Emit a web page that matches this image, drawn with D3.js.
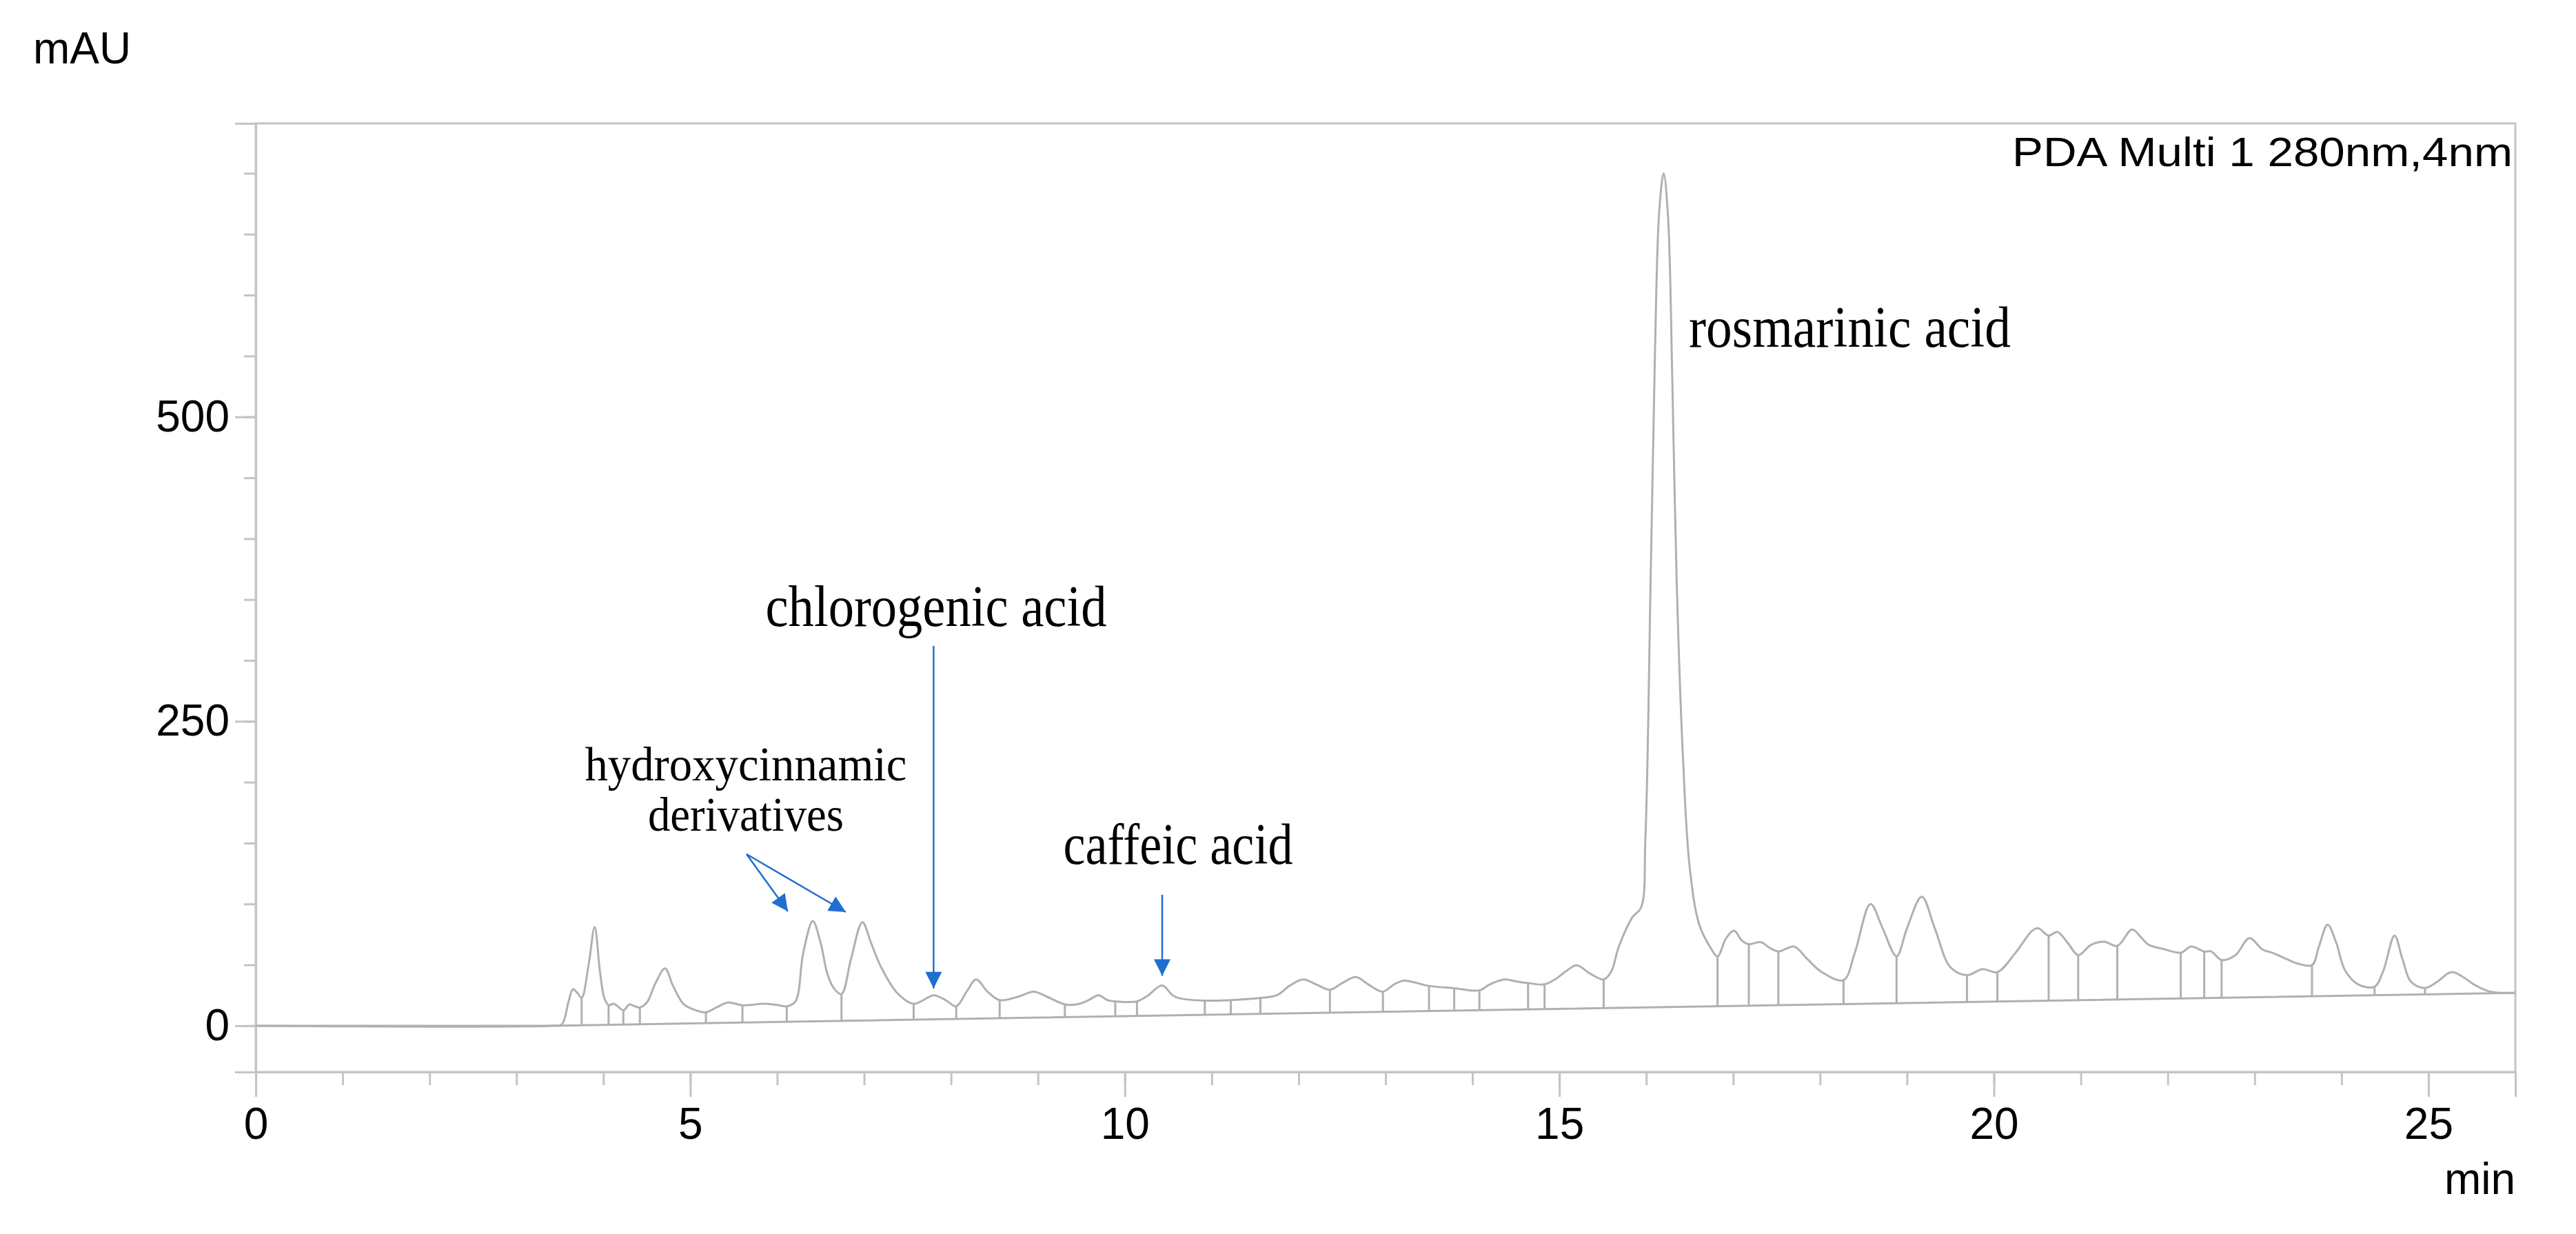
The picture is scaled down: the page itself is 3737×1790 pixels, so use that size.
<!DOCTYPE html>
<html>
<head>
<meta charset="utf-8">
<script src="https://cdn.jsdelivr.net/npm/d3@7"></script>
<style>
  body { margin: 0; background: #fff; }
  .tick text { font-family: Arial, "Liberation Sans", sans-serif; font-size: 64px; fill: #000; }
  .lbl { font-family: "Liberation Serif", "DejaVu Serif", serif; fill: #000; }
</style>
</head>
<body>
<div id="chart"></div>
<script>
// chromatogram trace: [time (min), signal (mAU)]
const trace = [
  [0,0],[3.40,0],[3.52,1],[3.60,20],[3.65,30],[3.70,27],[3.75,23],[3.83,50],[3.90,81],[3.96,45],
  [4.01,23],[4.06,17],[4.12,18],[4.18,15],[4.23,12.5],[4.30,17.5],[4.36,16],[4.42,15],[4.50,19],
  [4.60,35],[4.71,47],[4.80,33],[4.92,18],[5.05,13],[5.18,11],[5.30,15],[5.43,19],[5.52,18],
  [5.60,16.8],[5.86,18],[6.00,17],[6.11,16],[6.21,20],[6.30,60],[6.41,86],[6.50,68],[6.58,42],
  [6.66,30],[6.74,26],[6.85,55],[6.98,85],[7.08,68],[7.19,49],[7.38,27],[7.57,18],[7.68,21],
  [7.80,25],[7.94,21],[8.06,16],[8.18,28],[8.29,38],[8.42,28],[8.56,21],[8.78,24],[8.95,28],
  [9.10,24],[9.31,17.5],[9.48,18],[9.58,21],[9.70,25],[9.80,21],[9.89,20],[10.14,20],[10.25,24],
  [10.43,33],[10.55,25],[10.63,22.5],[10.92,20.6],[11.22,21],[11.56,22.8],[11.75,25],[11.90,33],
  [12.05,38],[12.20,34],[12.36,29.5],[12.50,35],[12.66,40],[12.80,34],[12.97,28],[13.10,34],
  [13.21,37],[13.50,32.7],[13.79,30.8],[14.08,29],[14.20,34],[14.37,38],[14.50,36.5],[14.64,35],
  [14.83,34],[14.95,38],[15.08,45],[15.20,49.6],[15.35,43],[15.51,38],[15.60,45],[15.68,64],
  [15.84,89],[15.94,97],[15.99,154],[16.05,365],[16.10,553],[16.15,670],[16.20,700],[16.25,665],
  [16.30,529],[16.35,365],[16.42,224],[16.50,130],[16.61,83],[16.74,64],[16.82,57],[16.92,72],
  [17.01,78],[17.10,70],[17.18,67],[17.32,68.6],[17.42,64],[17.52,61],[17.70,65],[17.85,55],
  [18.02,44],[18.27,37.5],[18.40,60],[18.58,100],[18.72,80],[18.88,57],[19.00,80],[19.17,106],
  [19.32,80],[19.50,48],[19.69,41.5],[19.87,46.5],[20.04,44],[20.25,60],[20.44,78],[20.51,80],
  [20.63,74],[20.73,77],[20.85,68],[20.97,58],[21.12,66.5],[21.27,69],[21.42,65.6],[21.59,79],
  [21.70,72],[21.78,66.5],[21.95,63],[22.15,60],[22.27,65],[22.42,61],[22.50,61],[22.62,54],
  [22.78,58],[22.94,72],[23.09,62.6],[23.20,60],[23.36,55],[23.50,51],[23.66,49.7],[23.74,65],
  [23.84,83],[23.94,68],[24.04,45.5],[24.19,34],[24.38,32],[24.48,45],[24.61,74],[24.70,55],
  [24.80,36],[24.96,31],[25.10,36],[25.26,44],[25.40,40],[25.52,34],[25.71,28],[26.00,27]
];

// peak boundaries (drop lines) - times that appear in the trace
const dropTimes = [3.75,4.06,4.23,4.42,5.18,5.60,6.11,6.74,7.57,8.06,8.56,9.31,9.89,10.14,10.92,
  11.22,11.56,12.36,12.97,13.50,13.79,14.08,14.64,14.83,15.51,16.82,17.18,17.52,18.27,18.88,19.69,
  20.04,20.63,20.97,21.42,22.15,22.42,22.62,23.66,24.38,24.96];

// integration baseline
const baseline = [[0,0],[3.40,0],[26,27]];

const xTicksMajor = [0,5,10,15,20,25];
const yTicksMajor = [0,250,500];

const width = 3737, height = 1790;
const margin = {top: 179, left: 371, right: 88, bottom: 235};

const svg = d3.select("#chart").append("svg")
  .attr("width", width).attr("height", height);

const xScale = d3.scaleLinear().domain([0, 26]).range([margin.left, width - margin.right]);
const yScale = d3.scaleLinear().domain([-38, 741]).range([height - margin.bottom, margin.top]);

const frame = "#c4c4c4";
const traceColor = "#b0b0b0";

// frame (top, right)
svg.append("rect")
  .attr("x", margin.left).attr("y", margin.top)
  .attr("width", width - margin.left - margin.right)
  .attr("height", height - margin.top - margin.bottom)
  .attr("fill", "none").attr("stroke", frame).attr("stroke-width", 3);

// x axis
const xAxisG = svg.append("g").attr("transform", `translate(0,${height - margin.bottom})`);
xAxisG.append("g")
  .call(d3.axisBottom(xScale).tickValues(d3.range(0, 26, 1)).tickSize(19).tickFormat(""));
xAxisG.append("g")
  .call(d3.axisBottom(xScale).tickValues(xTicksMajor).tickSize(36).tickPadding(16).tickFormat(d3.format("d")));
xAxisG.selectAll("path.domain").attr("stroke", frame).attr("stroke-width", 3);
xAxisG.selectAll(".tick line").attr("stroke", frame).attr("stroke-width", 3);

// y axis
const yAxisG = svg.append("g").attr("transform", `translate(${margin.left},0)`);
yAxisG.append("g")
  .call(d3.axisLeft(yScale).tickValues(d3.range(0, 701, 50)).tickSize(17).tickFormat(""));
yAxisG.append("g")
  .call(d3.axisLeft(yScale).tickValues(yTicksMajor).tickSize(30).tickPadding(8).tickFormat(d3.format("d")));
yAxisG.selectAll("path.domain").attr("stroke", frame).attr("stroke-width", 3);
yAxisG.selectAll(".tick line").attr("stroke", frame).attr("stroke-width", 3);

// axis titles
const sans = "Arial, 'Liberation Sans', sans-serif";
svg.append("text").attr("x", 48).attr("y", 92)
  .attr("font-family", sans).attr("font-size", 64).text("mAU");
svg.append("text").attr("x", width - margin.right).attr("y", 1732).attr("text-anchor", "end")
  .attr("font-family", sans).attr("font-size", 64).text("min");
svg.append("text").attr("x", width - margin.right - 4).attr("y", 241).attr("text-anchor", "end")
  .attr("font-family", sans).attr("font-size", 60)
  .attr("textLength", 726).attr("lengthAdjust", "spacingAndGlyphs").text("PDA Multi 1 280nm,4nm");

// baseline
svg.append("path").datum(baseline)
  .attr("d", d3.line().x(d => xScale(d[0])).y(d => yScale(d[1])))
  .attr("fill", "none").attr("stroke", traceColor).attr("stroke-width", 3);

// drop lines
const baseAt = t => t <= 3.4 ? 0 : 27 * (t - 3.4) / (26 - 3.4);
const lookup = new Map(trace.map(d => [d[0], d[1]]));
svg.selectAll("line.drop").data(dropTimes).enter().append("line")
  .attr("class", "drop")
  .attr("x1", d => xScale(d)).attr("x2", d => xScale(d))
  .attr("y1", d => yScale(baseAt(d))).attr("y2", d => yScale(lookup.get(d)))
  .attr("stroke", traceColor).attr("stroke-width", 3);

// trace
svg.append("path").datum(trace)
  .attr("d", d3.line().curve(d3.curveCatmullRom.alpha(0.5)).x(d => xScale(d[0])).y(d => yScale(d[1])))
  .attr("fill", "none").attr("stroke", traceColor).attr("stroke-width", 3);

// arrows
const blue = "#1f6fd0";
svg.append("defs").append("marker").attr("id", "ah").attr("viewBox", "0 0 10 10")
  .attr("refX", 10).attr("refY", 5)
  .attr("markerUnits", "userSpaceOnUse").attr("orient", "auto")
  .attr("markerWidth", 26).attr("markerHeight", 24)
  .append("path").attr("d", "M0,0 L10,5 L0,10 Z").attr("fill", blue);

function arrow(x1, y1, x2, y2) {
  svg.append("line").attr("x1", x1).attr("y1", y1).attr("x2", x2).attr("y2", y2)
    .attr("stroke", blue).attr("stroke-width", 2.5).attr("marker-end", "url(#ah)");
}
arrow(xScale(7.80), 937, xScale(7.80), yScale(25) - 10);
arrow(xScale(10.43), 1298, xScale(10.43), yScale(33) - 14);
arrow(1083, 1239, 1143, 1322);
arrow(1083, 1239, 1227, 1323);

// labels
function label(text, x, y, size, len, anchor) {
  svg.append("text").attr("class", "lbl").attr("x", x).attr("y", y)
    .attr("text-anchor", anchor).attr("font-size", size)
    .attr("textLength", len).attr("lengthAdjust", "spacingAndGlyphs").text(text);
}
label("chlorogenic acid", 1358, 908, 84, 495, "middle");
label("caffeic acid", 1709, 1253, 84, 333, "middle");
label("rosmarinic acid", 2450, 503, 84, 467, "start");
label("hydroxycinnamic", 1082, 1132, 70, 467, "middle");
label("derivatives", 1082, 1205, 70, 284, "middle");
</script>
</body>
</html>
